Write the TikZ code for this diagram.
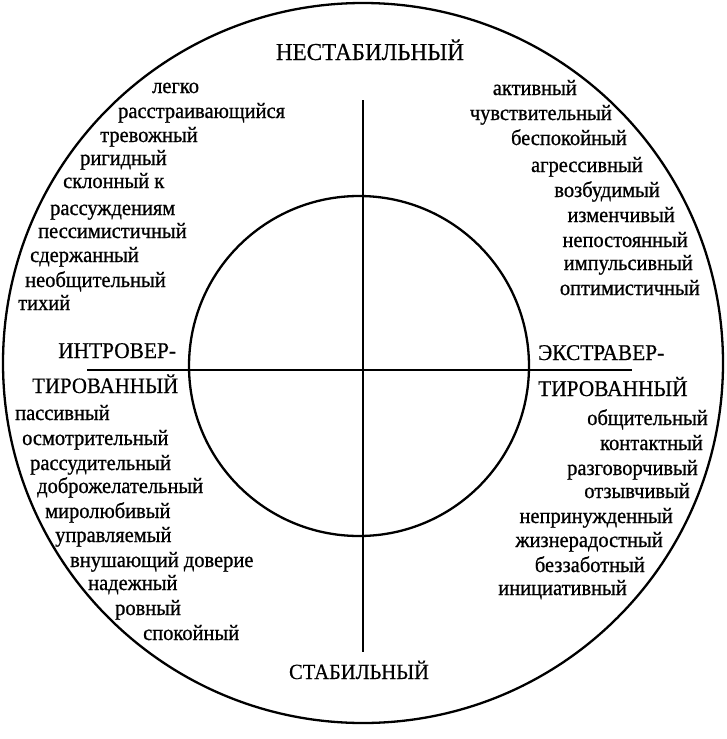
\documentclass[tikz,border=0pt]{standalone}
\usepackage{fontspec}
\setmainfont{Liberation Serif}
\newfontfamily\wfont{Liberation Serif}[FakeStretch=0.93,FakeBold=0.8]
\newfontfamily\cfont{Liberation Serif}[FakeStretch=0.95,FakeBold=0.5]
\begin{document}
\begin{tikzpicture}[x=1pt,y=-1pt,
  ln/.style={line width=2.3pt},
  capt/.style={font=\cfont\fontsize{22.5}{22.5}\selectfont, inner sep=0pt},
  capl/.style={capt, anchor=base west},
  wl/.style={font=\wfont\fontsize{22}{22}\selectfont, inner sep=0pt, anchor=base west},
  wr/.style={font=\wfont\fontsize{22}{22}\selectfont, inner sep=0pt, anchor=base east}]
\useasboundingbox (0,0) rectangle (727,739);
% circles
\draw[ln] (363,363) circle[radius=360pt];
\draw[ln] (359,366) circle[radius=170pt];
% axes
\coordinate (top) at (363,100);
\coordinate (bot) at (363,652);
\coordinate (lft) at (87,370);
\coordinate (rgt) at (632,370);
\draw[ln] (top) -- (bot);
\draw[ln] (lft) -- (rgt);
% main labels
\node[capt, anchor=base, font=\cfont\fontsize{24.3}{24.3}\selectfont] (nest) at (370,60) {НЕСТАБИЛЬНЫЙ};
\node[capt, anchor=base, font=\cfont\fontsize{21.6}{21.6}\selectfont] (stab) at (359,679) {СТАБИЛЬНЫЙ};
\node[capl] (intro1) at (58,358) {ИНТРОВЕР-};
\node[capl, font=\cfont\fontsize{22}{22}\selectfont] (intro2) at (32,393) {ТИРОВАННЫЙ};
\node[capl] (extra1) at (538,360) {ЭКСТРАВЕР-};
\node[capl] (extra2) at (538,396) {ТИРОВАННЫЙ};
% upper left
\node[wl] (ul1) at (152,93) {легко};
\node[wl] (ul2) at (118,118) {расстраивающийся};
\node[wl] (ul3) at (100,142) {тревожный};
\node[wl] (ul4) at (80,165) {ригидный};
\node[wl] (ul5) at (63,188) {склонный к};
\node[wl] (ul6) at (50,215) {рассуждениям};
\node[wl] (ul7) at (38,238) {пессимистичный};
\node[wl] (ul8) at (30,262) {сдержанный};
\node[wl] (ul9) at (25,287) {необщительный};
\node[wl] (ul10) at (18,310) {тихий};
% upper right
\node[wr] (ur1) at (577,95) {активный};
\node[wr] (ur2) at (612,120) {чувствительный};
\node[wr] (ur3) at (627,145) {беспокойный};
\node[wr] (ur4) at (643,172) {агрессивный};
\node[wr] (ur5) at (660,197) {возбудимый};
\node[wr] (ur6) at (675,222) {изменчивый};
\node[wr] (ur7) at (688,247) {непостоянный};
\node[wr] (ur8) at (693,270) {импульсивный};
\node[wr] (ur9) at (700,295) {оптимистичный};
% lower left
\node[wl] (ll1) at (15,420) {пассивный};
\node[wl] (ll2) at (22,445) {осмотрительный};
\node[wl] (ll3) at (30,470) {рассудительный};
\node[wl] (ll4) at (37,493) {доброжелательный};
\node[wl] (ll5) at (45,518) {миролюбивый};
\node[wl] (ll6) at (55,542) {управляемый};
\node[wl] (ll7) at (70,567) {внушающий доверие};
\node[wl] (ll8) at (88,590) {надежный};
\node[wl] (ll9) at (115,615) {ровный};
\node[wl] (ll10) at (143,640) {спокойный};
% lower right
\node[wr] (lr1) at (708,425) {общительный};
\node[wr] (lr2) at (703,450) {контактный};
\node[wr] (lr3) at (698,475) {разговорчивый};
\node[wr] (lr4) at (690,498) {отзывчивый};
\node[wr] (lr5) at (673,523) {непринужденный};
\node[wr] (lr6) at (663,547) {жизнерадостный};
\node[wr] (lr7) at (645,572) {беззаботный};
\node[wr] (lr8) at (627,595) {инициативный};
\end{tikzpicture}
\end{document}
